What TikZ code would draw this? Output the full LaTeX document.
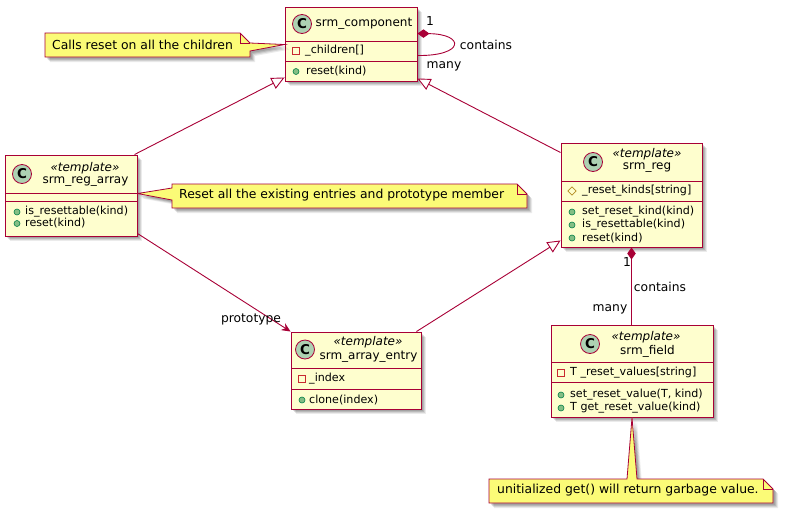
\documentclass[tikz,border=0pt]{standalone}
\usepackage{fontspec}
\setmainfont{DejaVu Sans}
\usetikzlibrary{arrows.meta,calc,shadows,shapes.geometric}

\definecolor{umlred}{HTML}{A80036}
\definecolor{classbg}{HTML}{FEFECE}
\definecolor{notebg}{HTML}{FBFB77}
\definecolor{badgebg}{HTML}{ADD1B2}
\definecolor{publight}{HTML}{84BE84}
\definecolor{pubdark}{HTML}{038048}
\definecolor{privred}{HTML}{C82930}
\definecolor{protgold}{HTML}{B38D22}

\tikzset{
  softshadow/.style={
    drop shadow={shadow xshift=5pt,shadow yshift=-5pt,opacity=0.08,fill=black},
    drop shadow={shadow xshift=4pt,shadow yshift=-4pt,opacity=0.10,fill=black},
    drop shadow={shadow xshift=3pt,shadow yshift=-3pt,opacity=0.12,fill=black},
    drop shadow={shadow xshift=2pt,shadow yshift=-2pt,opacity=0.12,fill=black}},
  classbox/.style={draw=umlred,fill=classbg,line width=0.95pt,inner sep=0pt,softshadow},
  sepline/.style={draw=umlred,line width=0.9pt},
  titletext/.style={inner sep=0pt,font=\fontsize{12}{14}\selectfont},
  stereotext/.style={inner sep=0pt,font=\fontsize{12}{14}\selectfont\itshape},
  membertext/.style={anchor=west,inner sep=0pt,font=\fontsize{11.1}{13}\selectfont},
  cbadge/.style={circle,draw=umlred,fill=badgebg,minimum size=19pt,inner sep=0pt,
    line width=0.8pt,font=\fontsize{13.5}{13.5}\selectfont\bfseries},
  pubicon/.style={circle,draw=pubdark,fill=publight,minimum size=6pt,inner sep=0pt,line width=0.6pt},
  privicon/.style={rectangle,draw=privred,minimum size=6.5pt,inner sep=0pt,line width=0.9pt},
  proticon/.style={diamond,draw=protgold,minimum size=8.5pt,inner sep=0pt,line width=0.8pt},
  umledge/.style={draw=umlred,line width=0.9pt},
  extends/.style={umledge,-{Triangle[length=13pt,width=12pt,fill=white]}},
  composes/.style={umledge,{Diamond[length=12pt,width=8.5pt,fill=umlred]}-},
  navigates/.style={umledge,-{Stealth[length=9pt,width=8pt,inset=3pt]}},
  edgelabel/.style={inner sep=0pt,font=\fontsize{12.3}{14}\selectfont},
  notebody/.style={draw=umlred,fill=notebg,line width=0.8pt,line join=miter,softshadow},
  notefold/.style={draw=umlred,line width=0.8pt},
  notetext/.style={anchor=west,inner sep=0pt,font=\fontsize{12.4}{14}\selectfont}
}

\begin{document}
\begin{tikzpicture}[x=1pt,y=-1pt]
\useasboundingbox (0,0) rectangle (794,514);

% ---------------- class boxes ----------------
\node[classbox,minimum width=132pt,minimum height=74pt]  (comp)     at (351,44)    {};
\node[classbox,minimum width=132pt,minimum height=81pt]  (regarray) at (71,195.5)  {};
\node[classbox,minimum width=141pt,minimum height=104pt] (reg)      at (631.5,195) {};
\node[classbox,minimum width=130pt,minimum height=77pt]  (entry)    at (356,370.5) {};
\node[classbox,minimum width=162pt,minimum height=92pt]  (field)    at (632,371)   {};

% compartment separators
\draw[sepline] (285,41) -- (417,41) (285,61) -- (417,61);
\draw[sepline] (5,193) -- (137,193) (5,201) -- (137,201);
\draw[sepline] (561,181) -- (702,181) (561,201) -- (702,201);
\draw[sepline] (291,368) -- (421,368) (291,389) -- (421,389);
\draw[sepline] (551,362) -- (713,362) (551,382) -- (713,382);

% ---------------- notes ----------------
\draw[notebody] (45,33) -- (240,33) -- (250,43) -- ($(comp.north west)+(0,38)$)
  -- (250,51) -- (250,57) -- (45,57) -- cycle;
\draw[notefold] (240,33) -- (240,43) -- (250,43);

\draw[notebody] (172,184) -- (517,184) -- (527,194) -- (527,208) -- (172,208)
  -- (172,200) -- ($(regarray.north east)+(0,39)$) -- (172,188) -- cycle;
\draw[notefold] (517,184) -- (517,194) -- (527,194);

\draw[notebody] (489,479) -- (627,479) -- (field.south) -- (637,479) -- (763,479)
  -- (773,489) -- (773,503) -- (489,503) -- cycle;
\draw[notefold] (763,479) -- (763,489) -- (773,489);

\node[notetext] (n1) at (52,45)  {Calls reset on all the children};
\node[notetext] (n2) at (179,195) {Reset all the existing entries and prototype member};
\node[notetext] (n3) at (497,490) {unitialized get() will return garbage value.};

% ---------------- connectors ----------------
\draw[extends] ($(regarray.north west)+(130,0)$) -- ($(comp.south west)+(0,-4)$);
\draw[extends] ($(reg.north west)+(0,10)$) -- ($(comp.south east)+(0,-3)$);
\draw[extends] ($(entry.north east)+(-5,0)$) -- ($(reg.south west)+(0,-7)$);
\draw[navigates] ($(regarray.south east)+(0,-3)$) -- (entry.north west);
\draw[composes] (reg.south) -- (reg.south |- field.north);
\draw[composes] ($(comp.north east)+(0,27)$) .. controls (465,34) and (465,56) .. ($(comp.north east)+(0,49)$);

% connector labels
\node[edgelabel] (lone1)   at (430,21)  {1};
\node[edgelabel] (lcont1)  at (486,45)  {contains};
\node[edgelabel] (lmany1)  at (444,66)  {many};
\node[edgelabel] (lproto)  at (251,319) {prototype};
\node[edgelabel] (lone2)   at (627,262) {1};
\node[edgelabel] (lcont2)  at (660,287) {contains};
\node[edgelabel] (lmany2)  at (610,309) {many};

% ---------------- srm_component ----------------
\node[cbadge] (compC) at (302,24) {C};
\node[titletext] (compT) at (364,24) {srm\_component};
\node[privicon] (compA1i) at (296,51) {};
\node[membertext] (compA1) at (305,51) {\_children[]};
\node[pubicon] (compM1i) at (296,71.5) {};
\node[membertext] (compM1) at (306,71.5) {reset(kind)};

% ---------------- srm_reg_array ----------------
\node[cbadge] (raC) at (22,174) {C};
\node[stereotext] (raS) at (85,168) {«template»};
\node[titletext] (raT) at (85.5,182) {srm\_reg\_array};
\node[pubicon] (raM1i) at (17,212) {};
\node[membertext] (raM1) at (25,212) {is\_resettable(kind)};
\node[pubicon] (raM2i) at (17,223.5) {};
\node[membertext] (raM2) at (25,223.5) {reset(kind)};

% ---------------- srm_reg ----------------
\node[cbadge] (rgC) at (593,162) {C};
\node[stereotext] (rgS) at (647,154) {«template»};
\node[titletext] (rgT) at (647,168) {srm\_reg};
\node[proticon] (rgA1i) at (572,191) {};
\node[membertext] (rgA1) at (582,191) {\_reset\_kinds[string]};
\node[pubicon] (rgM1i) at (572,212) {};
\node[membertext] (rgM1) at (582,212) {set\_reset\_kind(kind)};
\node[pubicon] (rgM2i) at (572,225) {};
\node[membertext] (rgM2) at (582,225) {is\_resettable(kind)};
\node[pubicon] (rgM3i) at (572,238) {};
\node[membertext] (rgM3) at (582,238) {reset(kind)};

% ---------------- srm_array_entry ----------------
\node[cbadge] (aeC) at (305,349.5) {C};
\node[stereotext] (aeS) at (368,342) {«template»};
\node[titletext] (aeT) at (368.5,357) {srm\_array\_entry};
\node[privicon] (aeA1i) at (302,379) {};
\node[membertext] (aeA1) at (309,379) {\_index};
\node[pubicon] (aeM1i) at (302,400) {};
\node[membertext] (aeM1) at (309,400) {clone(index)};

% ---------------- srm_field ----------------
\node[cbadge] (fdC) at (590,344) {C};
\node[stereotext] (fdS) at (646,337) {«template»};
\node[titletext] (fdT) at (647.5,351) {srm\_field};
\node[privicon] (fdA1i) at (561,373) {};
\node[membertext] (fdA1) at (570,373) {T \_reset\_values[string]};
\node[pubicon] (fdM1i) at (561,395) {};
\node[membertext] (fdM1) at (570,395) {set\_reset\_value(T, kind)};
\node[pubicon] (fdM2i) at (561,408) {};
\node[membertext] (fdM2) at (570,408) {T get\_reset\_value(kind)};
\end{tikzpicture}
\end{document}
